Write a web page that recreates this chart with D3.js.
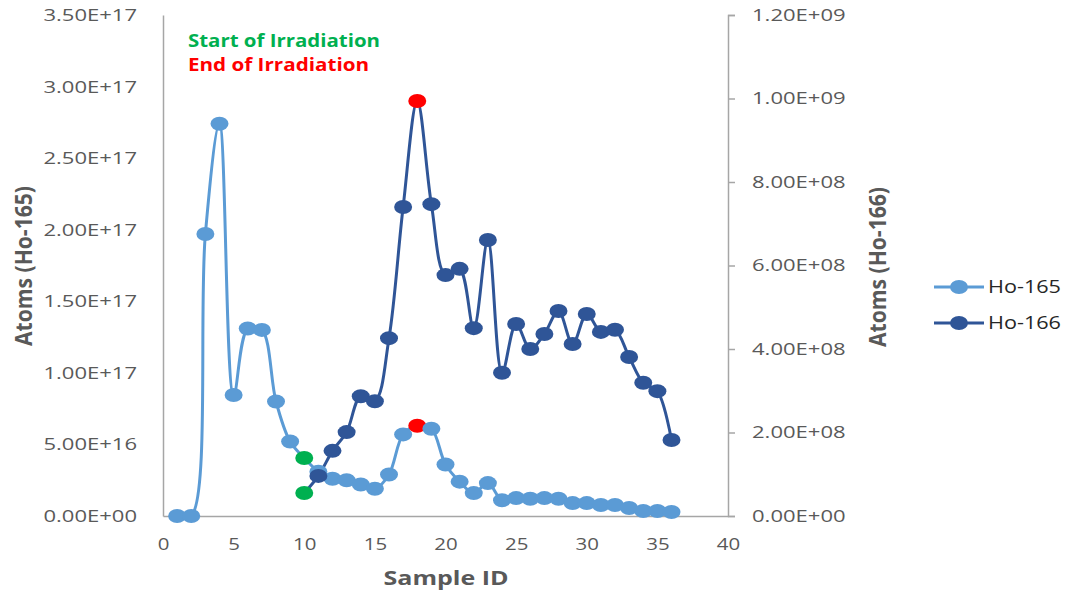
<!DOCTYPE html>
<html>
<head>
<meta charset="utf-8">
<script src="https://cdn.jsdelivr.net/npm/d3@7"></script>
<style>
  body { margin: 0; background: #fff; }
  svg text { font-family: "Open Sans", sans-serif; }
</style>
</head>
<body>
<div id="chart-area"></div>
<script>
// sample ids and values
var sampleIds = d3.range(1, 37);
var ho165 = [0, 0, 1.97e17, 2.74e17, 0.845e17, 1.31e17, 1.30e17, 0.80e17, 0.52e17, 0.405e17,
    0.31e17, 0.26e17, 0.25e17, 0.22e17, 0.19e17, 0.29e17, 0.57e17, 0.63e17, 0.61e17, 0.36e17,
    0.24e17, 0.16e17, 0.23e17, 0.11e17, 0.125e17, 0.12e17, 0.125e17, 0.12e17, 0.09e17, 0.09e17,
    0.077e17, 0.077e17, 0.056e17, 0.035e17, 0.035e17, 0.028e17];
// Ho-166 starts at sample 10
var ho166Ids = d3.range(10, 37);
var ho166 = [0.55e8, 0.96e8, 1.56e8, 2.01e8, 2.87e8, 2.75e8, 4.26e8, 7.40e8, 9.94e8, 7.47e8,
    5.77e8, 5.92e8, 4.50e8, 6.61e8, 3.43e8, 4.60e8, 4.00e8, 4.36e8, 4.91e8, 4.12e8,
    4.84e8, 4.41e8, 4.46e8, 3.81e8, 3.19e8, 2.99e8, 1.82e8];

var leftTicks = [0, 0.5e17, 1e17, 1.5e17, 2e17, 2.5e17, 3e17, 3.5e17];
var rightTicks = [0, 2e8, 4e8, 6e8, 8e8, 1e9, 1.2e9];
var xTicks = [0, 5, 10, 15, 20, 25, 30, 35, 40];

var startId = 10, endId = 18;
var seriesNames = ["Ho-165", "Ho-166"];

var light = "#5B9BD5", dark = "#2F5597", green = "#00B050", red = "#FF0000", grey = "#595959";

var chartWidth = 1068, chartHeight = 593;

var svg = d3.select("#chart-area").append("svg")
    .attr("width", chartWidth)
    .attr("height", chartHeight);

// scales
var x = d3.scaleLinear().domain([0, 40]).range([163, 728]);
var yL = d3.scaleLinear().domain([0, 3.5e17]).range([516, 15]);
var yR = d3.scaleLinear().domain([0, 1.2e9]).range([516, 15]);

function sci(d) {
    if (d === 0) return "0.00E+00";
    var e = Math.floor(Math.log10(d));
    var m = d / Math.pow(10, e);
    return m.toFixed(2) + "E+" + (e < 10 ? "0" + e : e);
}

// axes
var xAxis = d3.axisBottom(x).tickValues(xTicks).tickSize(0).tickPadding(22);
var yAxisL = d3.axisLeft(yL).tickValues(leftTicks).tickSize(0).tickPadding(26).tickFormat(sci);
var yAxisR = d3.axisRight(yR).tickValues(rightTicks).tickSize(7).tickPadding(17).tickFormat(sci);

// the reference text is wide, so stretch the glyphs to the measured widths
function styleAxis(g) {
    g.select(".domain").attr("stroke", "#a6a6a6").attr("stroke-width", 1.5);
    g.selectAll(".tick line").attr("stroke", "#a6a6a6").attr("stroke-width", 1.5);
    g.selectAll("text").attr("fill", grey).style("font-size", "17px")
        .attr("lengthAdjust", "spacingAndGlyphs")
        .attr("textLength", function() { return this.textContent.length * 11.7; });
}

svg.append("g").attr("transform", "translate(0,516)").call(xAxis).call(styleAxis);
svg.append("g").attr("transform", "translate(163,0)").call(yAxisL).call(styleAxis);
svg.append("g").attr("transform", "translate(728,0)").call(yAxisR).call(styleAxis);

// axis titles
svg.append("text")
    .attr("x", 446).attr("y", 585)
    .attr("text-anchor", "middle")
    .attr("fill", grey)
    .style("font-size", "20px").style("font-weight", "bold")
    .attr("lengthAdjust", "spacingAndGlyphs").attr("textLength", 125)
    .text("Sample ID");

svg.append("text")
    .attr("transform", "translate(32,266) scale(1.2,1) rotate(-90)")
    .attr("text-anchor", "middle")
    .attr("fill", grey)
    .style("font-size", "20px").style("font-weight", "bold")
    .attr("lengthAdjust", "spacingAndGlyphs").attr("textLength", 160)
    .text("Atoms (Ho-165)");

svg.append("text")
    .attr("transform", "translate(886,267) scale(1.2,1) rotate(-90)")
    .attr("text-anchor", "middle")
    .attr("fill", grey)
    .style("font-size", "20px").style("font-weight", "bold")
    .attr("lengthAdjust", "spacingAndGlyphs").attr("textLength", 160)
    .text("Atoms (Ho-166)");

// lines
var d165 = sampleIds.map((id, i) => ({ id: id, v: ho165[i] }));
var d166 = ho166Ids.map((id, i) => ({ id: id, v: ho166[i] }));

var line165 = d3.line().curve(d3.curveCatmullRom.alpha(0.5))
    .x(d => x(d.id)).y(d => yL(d.v));
var line166 = d3.line().curve(d3.curveCatmullRom.alpha(0.5))
    .x(d => x(d.id)).y(d => yR(d.v));

svg.append("path").datum(d165)
    .attr("fill", "none").attr("stroke", light).attr("stroke-width", 3)
    .attr("d", line165);

svg.append("path").datum(d166)
    .attr("fill", "none").attr("stroke", dark).attr("stroke-width", 3)
    .attr("d", line166);

function markerColor(d, base) {
    if (d.id === startId) return green;
    if (d.id === endId) return red;
    return base;
}

svg.append("g").selectAll("ellipse")
    .data(d165).enter().append("ellipse")
    .attr("cx", d => x(d.id)).attr("cy", d => yL(d.v))
    .attr("rx", 9).attr("ry", 7)
    .attr("fill", d => markerColor(d, light));

svg.append("g").selectAll("ellipse")
    .data(d166).enter().append("ellipse")
    .attr("cx", d => x(d.id)).attr("cy", d => yR(d.v))
    .attr("rx", 9).attr("ry", 7)
    .attr("fill", d => markerColor(d, dark));

// annotations
svg.append("text").attr("x", 188).attr("y", 47)
    .attr("fill", green).style("font-size", "18px").style("font-weight", "bold")
    .attr("lengthAdjust", "spacingAndGlyphs").attr("textLength", 192)
    .text("Start of Irradiation");
svg.append("text").attr("x", 188).attr("y", 71)
    .attr("fill", red).style("font-size", "18px").style("font-weight", "bold")
    .attr("lengthAdjust", "spacingAndGlyphs").attr("textLength", 181)
    .text("End of Irradiation");

// legend
var legend = svg.append("g").selectAll("g")
    .data(seriesNames).enter().append("g")
    .attr("transform", (d, i) => "translate(934," + (287 + i * 36) + ")");

legend.append("line")
    .attr("x1", 0).attr("x2", 50)
    .attr("stroke", (d, i) => i ? dark : light).attr("stroke-width", 3);
legend.append("ellipse")
    .attr("cx", 25).attr("rx", 9).attr("ry", 7)
    .attr("fill", (d, i) => i ? dark : light);
legend.append("text")
    .attr("x", 54).attr("dy", "0.35em")
    .attr("fill", "#262626")
    .style("font-size", "18px")
    .attr("lengthAdjust", "spacingAndGlyphs").attr("textLength", 73)
    .text(d => d);
</script>
</body>
</html>
